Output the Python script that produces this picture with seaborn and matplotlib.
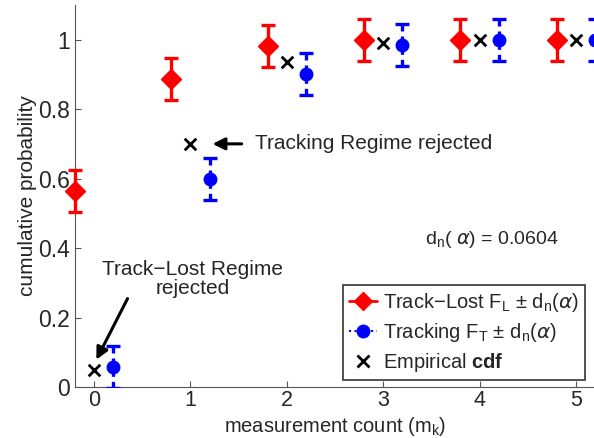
import numpy as np
import pandas as pd
import matplotlib
matplotlib.use("Agg")
import matplotlib.pyplot as plt
import seaborn as sns
from matplotlib.lines import Line2D

counts = [0, 1, 2, 3, 4, 5]
track_lost = [0.565, 0.888, 0.981, 1.0, 1.0, 1.0]
tracking = [0.059, 0.598, 0.900, 0.984, 1.0, 1.0]
empirical = [0.05, 0.70, 0.935, 0.99, 1.0, 1.0]
d_n = 0.0604

sns.set_style("ticks")
plt.rcParams['font.family'] = ['Liberation Sans', 'DejaVu Sans']
plt.rcParams['mathtext.fontset'] = 'custom'
plt.rcParams['mathtext.rm'] = 'Liberation Sans'
plt.rcParams['mathtext.bf'] = 'Liberation Sans:bold'

fig = plt.figure(figsize=(5.94, 4.38), dpi=100)
ax = fig.add_axes([0.126, 0.116, 0.876, 0.873])

x = np.array(counts, dtype=float)
eb_r = ax.errorbar(x - 0.2, track_lost, yerr=d_n, fmt='D', color='red', ms=10,
                   elinewidth=2.4, capsize=5, capthick=2.4, zorder=3)
for art in [eb_r[0], *eb_r[1], *eb_r[2]]:
    art.set_clip_on(False)
eb = ax.errorbar(x + 0.2, tracking, yerr=d_n, fmt='o', color='blue', ms=9,
                 elinewidth=2.4, capsize=5, capthick=2.4, zorder=3)
for c in eb[2]:
    c.set_linestyle((0, (2, 1.5)))
for c in eb[1]:
    c.set_linestyle('none')

df = pd.DataFrame({'count': counts, 'cdf': empirical})
sns.scatterplot(data=df, x='count', y='cdf', marker='x', color='black', s=70,
                linewidth=2, ax=ax, zorder=4)

ax.set_xlim(-0.2, 5.2)
ax.set_ylim(0, 1.1)
ax.set_xticks(counts)
ax.set_yticks([0, 0.2, 0.4, 0.6, 0.8, 1.0])
ax.set_yticklabels(['0', '0.2', '0.4', '0.6', '0.8', '1'])
ax.tick_params(direction='in', labelsize=16.5, length=4, color='#555555')
ax.tick_params(axis='x', pad=2, labelsize=15.5)
ax.set_xlabel('measurement count (m$_\\mathregular{k}$)', fontsize=14.5)
ax.xaxis.set_label_coords(0.5, -0.073, transform=ax.transAxes)
ax.xaxis.label.set_va('top')
ax.set_ylabel('cumulative probability', fontsize=15, labelpad=1)
sns.despine(ax=ax)
for s in ['left', 'bottom']:
    ax.spines[s].set_color('#555555')

ax.annotate('', xy=(1.2, 0.70), xytext=(1.56, 0.70),
            arrowprops=dict(arrowstyle='-|>', color='black', lw=2.2, mutation_scale=18))
ax.text(1.67, 0.70, 'Tracking Regime rejected', fontsize=15, va='center')
ax.annotate('', xy=(0.01, 0.072), xytext=(0.36, 0.262),
            arrowprops=dict(arrowstyle='-|>', color='black', lw=2.2, mutation_scale=18))
ax.text(1.02, 0.31, 'Track\u2212Lost Regime\nrejected', fontsize=15,
        ha='center', va='center', linespacing=1.0)
ax.text(3.43, 0.424, 'd$_\\mathregular{n}$( $\\alpha$) = 0.0604', fontsize=14, va='center')

handles = [
    Line2D([0], [0], color='red', marker='D', ms=9, lw=2),
    Line2D([0], [0], color='blue', marker='o', ms=9, lw=1.5, ls=':'),
    Line2D([0], [0], color='black', marker='x', ms=8, lw=0, mew=2),
]
labels = [
    'Track\u2212Lost F$_\\mathregular{L}$ \u00b1 d$_\\mathregular{n}$($\\alpha$)',
    'Tracking F$_\\mathregular{T}$ \u00b1 d$_\\mathregular{n}$($\\alpha$)',
    'Empirical $\\mathbf{cdf}$',
]
leg = ax.legend(handles, labels, loc='lower right', bbox_to_anchor=(0.981, 0.018),
                fontsize=14.5, frameon=True, fancybox=False, edgecolor='black',
                handlelength=1.4, handletextpad=0.3, borderpad=0.3, labelspacing=0.35,
                borderaxespad=0)
leg.get_frame().set_linewidth(1.2)

fig.savefig('out.png', dpi=100)
